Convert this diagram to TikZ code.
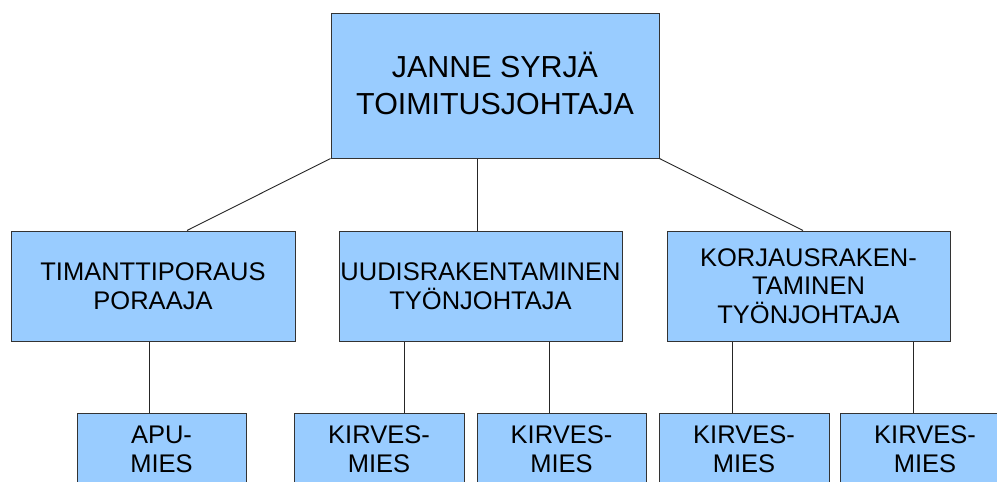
\documentclass[tikz,border=0pt]{standalone}
\usepackage{fontspec}
\setmainfont{Liberation Sans}
\definecolor{boxfill}{HTML}{99CCFF}
\definecolor{edgecol}{HTML}{333333}
\begin{document}
\begin{tikzpicture}[x=1pt,y=-1pt,
  orgbox/.style={draw=edgecol, fill=boxfill, line width=1pt, inner sep=0pt, align=center, text=black},
  bigtext/.style={font=\fontsize{30.4}{36.7}\selectfont},
  midtext/.style={font=\fontsize{25.5}{28.7}\selectfont},
  link/.style={draw=black!85, line width=0.9pt}]
\useasboundingbox (0,0) rectangle (997,482);
\clip (0,0) rectangle (997,482);
\fill[white] (0,0) rectangle (997,482);
% top
\node[orgbox, bigtext, minimum width=328pt, minimum height=145pt] (top) at (495,85.5) {JANNE SYRJ\smash{Ä}\\TOIMITUSJOHTAJA};
% level 2
\node[orgbox, midtext, minimum width=284pt, minimum height=110pt] (left) at (153,286) {TIMANTTIPORAUS\\PORAAJA};
\node[orgbox, midtext, minimum width=283pt, minimum height=110pt] (mid) at (480.5,286) {UUDISRAKENTAMINEN\\TYÖNJOHTAJA};
\node[orgbox, midtext, minimum width=283pt, minimum height=110pt] (right) at (808.5,286) {KORJAUSRAKEN-\\TAMINEN\\TYÖNJOHTAJA};
% level 3
\node[orgbox, midtext, minimum width=169pt, minimum height=72pt] (apu) at (161.5,449) {APU-\\MIES};
\node[orgbox, midtext, minimum width=170pt, minimum height=72pt] (k1) at (379,449) {KIRVES-\\MIES};
\node[orgbox, midtext, minimum width=169pt, minimum height=72pt] (k2) at (561.5,449) {KIRVES-\\MIES};
\node[orgbox, midtext, minimum width=170pt, minimum height=72pt] (k3) at (744,449) {KIRVES-\\MIES};
\node[orgbox, midtext, minimum width=170pt, minimum height=72pt] (k4) at (925,449) {KIRVES-\\MIES};
% connectors
\draw[link] (top.south west) -- ([xshift=34pt]left.north);
\draw[link] ([xshift=-3.5pt]mid.north |- top.south) -- ([xshift=-3.5pt]mid.north);
\draw[link] (top.south east) -- ([xshift=-5.5pt]right.north);
\draw[link] ([xshift=-4pt]left.south) -- ([xshift=-4pt]left.south |- apu.north);
\draw[link] ([xshift=25pt]k1.north |- mid.south) -- ([xshift=25pt]k1.north);
\draw[link] ([xshift=-12.5pt]k2.north |- mid.south) -- ([xshift=-12.5pt]k2.north);
\draw[link] ([xshift=-12pt]k3.north |- right.south) -- ([xshift=-12pt]k3.north);
\draw[link] ([xshift=-12pt]k4.north |- right.south) -- ([xshift=-12pt]k4.north);
\end{tikzpicture}
\end{document}
